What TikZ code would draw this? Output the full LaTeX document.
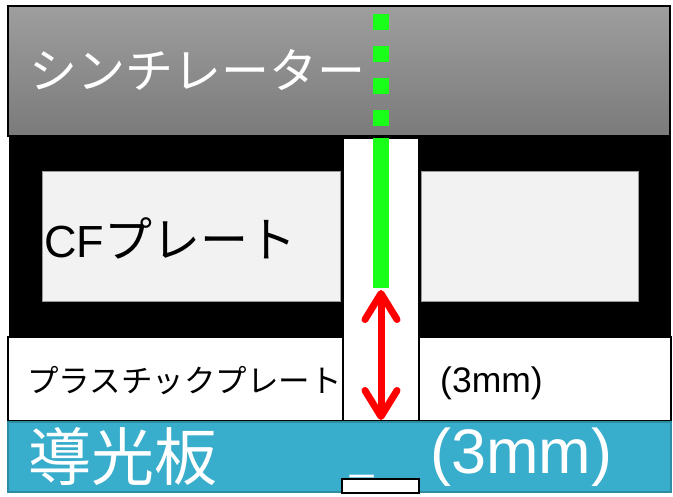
\documentclass[tikz,border=0pt]{standalone}
\usepackage{fontspec}
\setmainfont{Liberation Sans}
\newfontfamily\jp{Noto Sans CJK JP}
\usetikzlibrary{arrows.meta}
\definecolor{glg}{HTML}{38ADCC}
\definecolor{glgb}{HTML}{2E8DA3}
\definecolor{cfg}{HTML}{F2F2F2}
\definecolor{grn}{HTML}{1AFF1A}
\tikzset{
  lbl/.style={inner sep=0pt, anchor=west},
  plate/.style={draw=black, line width=2pt, fill=white},
}
\begin{document}
\begin{tikzpicture}[x=1pt,y=-1pt]
\useasboundingbox (0,0) rectangle (673,497);
% scintillator
\shade[top color=black!38, bottom color=black!52] (8,6) rectangle (670,136);
\draw[line width=2pt] (8,6) rectangle (670,136);
% black frame
\fill[black] (9,137) rectangle (671,337);
% CF plates
\draw[fill=cfg, draw=black!40, line width=0.6pt] (42,171) rectangle (340,301);
\draw[fill=cfg, draw=black!40, line width=0.6pt] (421,171) rectangle (638,301);
% plastic plates
\draw[plate] (8,337) rectangle (343,421);
\draw[plate] (419,337) rectangle (671,421);
% slot
\draw[plate] (343,138) rectangle (419,421);
% light guide
\draw[fill=glg, draw=glgb, line width=1.5pt] (8,422) rectangle (671,492);
\node[draw=black, line width=2pt, fill=white, minimum width=77pt, minimum height=14pt, inner sep=0pt] (foot) at (380,486) {};
% green fibre
\coordinate (gtop) at (381,14);
\coordinate (gmid) at (381,138);
\coordinate (gbot) at (381,288);
\draw[grn, line width=16pt, dash pattern=on 16pt off 16pt] (gtop) -- (381,130);
\draw[grn, line width=16pt] (gmid) -- (gbot);
% red arrow
\coordinate (ra) at (381,290);
\coordinate (rb) at (381,420);
\draw[red, line width=7pt, line cap=round,
  {Straight Barb[length=26pt,width=32pt,round]}-{Straight Barb[length=26pt,width=32pt,round]}] (ra) -- (rb);
% labels
\node[lbl, text=white] (scin) at (29,70) {\jp\fontsize{48}{48}\selectfont シンチレーター};
\node[lbl] (cf) at (44,238) {\fontsize{45}{45}\selectfont CF\jp\fontsize{48}{48}\selectfont プレート};
\node[lbl] (pp) at (27,381) {\jp\fontsize{31.5}{31}\selectfont プラスチックプレート};
\node[lbl] (t1) at (440,383) {\fontsize{35.5}{35}\selectfont (3mm)};
\node[lbl, text=white] (lg) at (28,457) {\jp\fontsize{63}{63}\selectfont 導光板};
\node[lbl, text=white] (t2) at (430,457) {\fontsize{63}{63}\selectfont (3mm)};
\node[inner sep=0pt, anchor=base west, text=white] (us) at (350,469) {\fontsize{42}{42}\selectfont \_};
\end{tikzpicture}
\end{document}
